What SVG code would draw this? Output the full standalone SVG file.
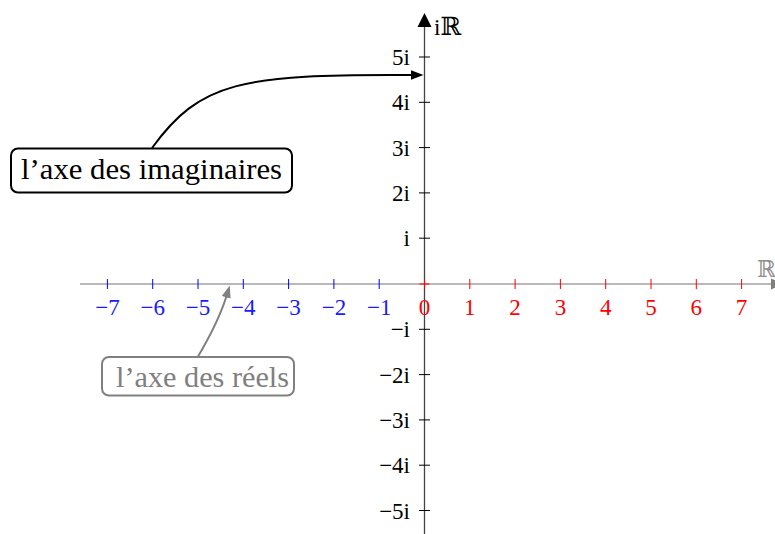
<svg xmlns="http://www.w3.org/2000/svg" width="775" height="534" viewBox="0 0 775 534">
<style>
.t{font-family:"Liberation Serif","DejaVu Serif",serif;font-size:23px}
.neg{fill:#1a1aff;text-anchor:middle}
.pos{fill:#ff0000;text-anchor:middle}
.vl{fill:#000;text-anchor:end}
.lbl{font-family:"Liberation Serif","DejaVu Serif",serif;font-size:29px;text-anchor:middle}
.tb{stroke:#0000ff;stroke-width:1}
.tr{stroke:#ff0000;stroke-width:1}
.tv{stroke:#000;stroke-width:1}
</style>
<defs>
<marker id="ab" markerUnits="userSpaceOnUse" markerWidth="14" markerHeight="12" refX="1" refY="4.7" orient="auto"><path d="M0,0 L12.5,4.7 L0,9.4 z" fill="#000"/></marker>
<marker id="ag" markerUnits="userSpaceOnUse" markerWidth="14" markerHeight="12" refX="3" refY="4.6" orient="auto"><path d="M0,0 L12.5,4.6 L0,9.2 z" fill="#808080"/></marker>
</defs>
<g id="axes">
<line x1="80" y1="284" x2="772" y2="284" stroke="#a0a0a0" stroke-width="1.6"/>
<path d="M771,278.5 L784,284 L771,289.5 z" fill="#808080"/>
<text x="757" y="277" font-family="DejaVu Serif,serif" font-size="23" fill="#909090">ℝ</text>
<line x1="424.5" y1="534" x2="424.5" y2="24" stroke="#444" stroke-width="1.3"/>
<path d="M424.5,13 L417.5,27 L431.5,27 z" fill="#000"/>
<text x="434" y="35" class="t" font-size="25">i<tspan font-family="DejaVu Serif,serif" font-size="25">ℝ</tspan></text>
</g>
<g id="xticks">
<line class="tb" x1="107.4" y1="279" x2="107.4" y2="289"/>
<line class="tb" x1="152.7" y1="279" x2="152.7" y2="289"/>
<line class="tb" x1="198" y1="279" x2="198" y2="289"/>
<line class="tb" x1="243.3" y1="279" x2="243.3" y2="289"/>
<line class="tb" x1="288.6" y1="279" x2="288.6" y2="289"/>
<line class="tb" x1="333.9" y1="279" x2="333.9" y2="289"/>
<line class="tb" x1="379.2" y1="279" x2="379.2" y2="289"/>
<line class="tr" x1="419.5" y1="284" x2="429.5" y2="284"/>
<line class="tr" x1="424.5" y1="279" x2="424.5" y2="289"/>
<line class="tr" x1="469.8" y1="279" x2="469.8" y2="289"/>
<line class="tr" x1="515.1" y1="279" x2="515.1" y2="289"/>
<line class="tr" x1="560.4" y1="279" x2="560.4" y2="289"/>
<line class="tr" x1="605.7" y1="279" x2="605.7" y2="289"/>
<line class="tr" x1="651" y1="279" x2="651" y2="289"/>
<line class="tr" x1="696.3" y1="279" x2="696.3" y2="289"/>
<line class="tr" x1="741.6" y1="279" x2="741.6" y2="289"/>
<text class="t neg" x="107.4" y="315">−7</text>
<text class="t neg" x="152.7" y="315">−6</text>
<text class="t neg" x="198" y="315">−5</text>
<text class="t neg" x="243.3" y="315">−4</text>
<text class="t neg" x="288.6" y="315">−3</text>
<text class="t neg" x="333.9" y="315">−2</text>
<text class="t neg" x="379.2" y="315">−1</text>
<text class="t pos" x="424.5" y="315">0</text>
<text class="t pos" x="469.8" y="315">1</text>
<text class="t pos" x="515.1" y="315">2</text>
<text class="t pos" x="560.4" y="315">3</text>
<text class="t pos" x="605.7" y="315">4</text>
<text class="t pos" x="651" y="315">5</text>
<text class="t pos" x="696.3" y="315">6</text>
<text class="t pos" x="741.6" y="315">7</text>
</g>
<g id="yticks">
<line class="tv" x1="419" y1="57" x2="430" y2="57"/>
<line class="tv" x1="419" y1="102.3" x2="430" y2="102.3"/>
<line class="tv" x1="419" y1="147.6" x2="430" y2="147.6"/>
<line class="tv" x1="419" y1="192.9" x2="430" y2="192.9"/>
<line class="tv" x1="419" y1="238.2" x2="430" y2="238.2"/>
<line class="tv" x1="419" y1="329.3" x2="430" y2="329.3"/>
<line class="tv" x1="419" y1="374.6" x2="430" y2="374.6"/>
<line class="tv" x1="419" y1="419.9" x2="430" y2="419.9"/>
<line class="tv" x1="419" y1="465.2" x2="430" y2="465.2"/>
<line class="tv" x1="419" y1="510.5" x2="430" y2="510.5"/>
<text class="t vl" x="410" y="65">5i</text>
<text class="t vl" x="410" y="110.3">4i</text>
<text class="t vl" x="410" y="155.6">3i</text>
<text class="t vl" x="410" y="200.9">2i</text>
<text class="t vl" x="410" y="246.2">i</text>
<text class="t vl" x="410" y="337.3">−i</text>
<text class="t vl" x="410" y="382.6">−2i</text>
<text class="t vl" x="410" y="427.9">−3i</text>
<text class="t vl" x="410" y="473.2">−4i</text>
<text class="t vl" x="410" y="518.5">−5i</text>
</g>
<g id="connectors" fill="none">
<path d="M152,148 C 200,82 240,74 412,75" stroke="#000" stroke-width="2" marker-end="url(#ab)"/>
<path d="M198,356.5 Q 219,321 227,294.5" stroke="#808080" stroke-width="2" marker-end="url(#ag)"/>
</g>
<g id="node-imaginaires">
<rect x="11" y="148.5" width="281" height="44" rx="7" fill="#fff" stroke="#000" stroke-width="2"/>
<text class="lbl" x="151.5" y="179" textLength="261" lengthAdjust="spacingAndGlyphs">l’axe des imaginaires</text>
</g>
<g id="node-reels">
<rect x="102" y="357" width="192" height="38.5" rx="7" fill="#fff" stroke="#808080" stroke-width="2"/>
<text class="lbl" x="202.5" y="386.5" fill="#808080" textLength="173" lengthAdjust="spacingAndGlyphs">l’axe des réels</text>
</g>
</svg>
